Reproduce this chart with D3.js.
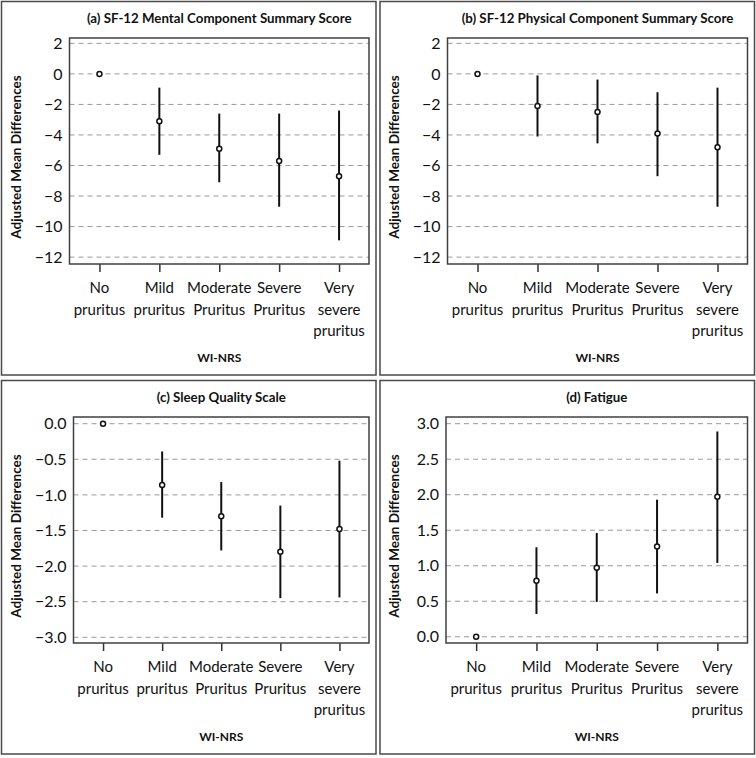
<!DOCTYPE html>
<html>
<head>
<meta charset="utf-8">
<script src="https://cdn.jsdelivr.net/npm/d3@7"></script>
<style>
  html, body { margin: 0; padding: 0; background: #fff; }
  svg { display: block; font-family: Lato, "Open Sans", sans-serif; }
</style>
</head>
<body>
<svg id="chart" width="756" height="758"></svg>
<script>
// ---------- data ----------
const categories = [
  ["No", "pruritus"],
  ["Mild", "pruritus"],
  ["Moderate", "Pruritus"],
  ["Severe", "Pruritus"],
  ["Very", "severe", "pruritus"]
];
const titles = [
  "(a) SF-12 Mental Component Summary Score",
  "(b) SF-12 Physical Component Summary Score",
  "(c) Sleep Quality Scale",
  "(d) Fatigue"
];
const mentalMean  = [0, -3.1, -4.9, -5.7, -6.7];
const mentalLow   = [null, -5.3, -7.1, -8.7, -10.9];
const mentalHigh  = [null, -0.9, -2.6, -2.6, -2.4];

const physicalMean = [0, -2.1, -2.5, -3.9, -4.8];
const physicalLow  = [null, -4.1, -4.55, -6.7, -8.7];
const physicalHigh = [null, -0.1, -0.37, -1.2, -0.9];

const sleepMean = [0, -0.86, -1.30, -1.80, -1.48];
const sleepLow  = [null, -1.32, -1.78, -2.45, -2.44];
const sleepHigh = [null, -0.39, -0.82, -1.15, -0.52];

const fatigueMean = [0, 0.79, 0.97, 1.27, 1.97];
const fatigueLow  = [null, 0.32, 0.49, 0.61, 1.04];
const fatigueHigh = [null, 1.26, 1.46, 1.93, 2.89];

const sfTicks = [2, 0, -2, -4, -6, -8, -10, -12];
const sleepTicks = [0, -0.5, -1.0, -1.5, -2.0, -2.5, -3.0];
const fatigueTicks = [3.0, 2.5, 2.0, 1.5, 1.0, 0.5, 0.0];

const yTitle = "Adjusted Mean Differences";
const xTitle = "WI-NRS";

// ---------- layout ----------
const panels = [
  { title: titles[0], mean: mentalMean, low: mentalLow, high: mentalHigh, ticks: sfTicks, dom: [-12.45, 2.35], fmt: d3.format("d"), ox: 1.5, oy: 1.5, left: 68, w: 376 - 1.5 },
  { title: titles[1], mean: physicalMean, low: physicalLow, high: physicalHigh, ticks: sfTicks, dom: [-12.45, 2.35], fmt: d3.format("d"), ox: 380, oy: 1.5, left: 67.5, w: 754.5 - 380 },
  { title: titles[2], mean: sleepMean, low: sleepLow, high: sleepHigh, ticks: sleepTicks, dom: [-3.08, 0.094], fmt: d3.format(".1f"), ox: 1.5, oy: 380.5, left: 72, w: 376 - 1.5 },
  { title: titles[3], mean: fatigueMean, low: fatigueLow, high: fatigueHigh, ticks: fatigueTicks, dom: [-0.088, 3.094], fmt: d3.format(".1f"), ox: 380, oy: 380.5, left: 66, w: 754.5 - 380 }
];

const svg = d3.select("#chart");
const panelH = 375;

panels.forEach(p => {
  const g = svg.append("g").attr("transform", `translate(${p.ox},${p.oy})`);
  // panel border
  g.append("rect").attr("x", 0).attr("y", 0).attr("width", p.w).attr("height", panelH - 1.5)
    .attr("fill", "none").attr("stroke", "#4a4a4a").attr("stroke-width", 1.5);

  const plotL = p.left, plotR = p.w - 7, plotT = 36.5, plotB = 262.5;
  const x = d3.scalePoint().domain(d3.range(categories.length)).range([plotL, plotR]).padding(0.5);
  const y = d3.scaleLinear().domain(p.dom).range([plotB, plotT]);

  // gridlines
  g.append("g").selectAll("line").data(p.ticks).join("line")
    .attr("x1", plotL).attr("x2", plotR)
    .attr("y1", d => y(d)).attr("y2", d => y(d))
    .attr("stroke", "#9a9a9a").attr("stroke-width", 1).attr("stroke-dasharray", "5,4");

  // y axis labels
  const yAxis = d3.axisLeft(y).tickValues(p.ticks).tickFormat(p.fmt).tickSize(0).tickPadding(7);
  const ya = g.append("g").attr("transform", `translate(${plotL},0)`).call(yAxis);
  ya.select(".domain").remove();
  ya.selectAll("text").attr("font-size", 16).attr("fill", "#111").attr("font-family", "Lato, sans-serif");

  // x axis ticks
  const xAxis = d3.axisBottom(x).tickSize(8).tickFormat("");
  const xa = g.append("g").attr("transform", `translate(0,${plotB})`).call(xAxis);
  xa.select(".domain").remove();
  xa.selectAll(".tick line").attr("stroke", "#333").attr("stroke-width", 1.5);

  // category labels
  const lab = g.append("g").selectAll("text").data(categories).join("text")
    .attr("x", (d, i) => x(i)).attr("y", 291.5)
    .attr("text-anchor", "middle").attr("font-size", 15).attr("fill", "#111");
  lab.selectAll("tspan").data(d => d).join("tspan")
    .attr("x", function () { return d3.select(this.parentNode).attr("x"); })
    .attr("dy", (d, i) => i === 0 ? 0 : 21.7)
    .text(d => d);

  // plot frame
  g.append("rect").attr("x", plotL).attr("y", plotT).attr("width", plotR - plotL).attr("height", plotB - plotT)
    .attr("fill", "none").attr("stroke", "#404040").attr("stroke-width", 1.5);

  // error bars
  const idx = d3.range(categories.length).filter(i => p.low[i] !== null);
  g.append("g").selectAll("line").data(idx).join("line")
    .attr("x1", i => x(i)).attr("x2", i => x(i))
    .attr("y1", i => y(p.low[i])).attr("y2", i => y(p.high[i]))
    .attr("stroke", "#111").attr("stroke-width", 2);

  // points
  g.append("g").selectAll("circle").data(p.mean).join("circle")
    .attr("cx", (d, i) => x(i)).attr("cy", d => y(d)).attr("r", 2.5)
    .attr("fill", "#fff").attr("stroke", "#111").attr("stroke-width", 1.5);

  // title
  g.append("text").attr("x", (plotL + plotR) / 2).attr("y", 21)
    .attr("text-anchor", "middle").attr("font-size", 13.3).attr("font-weight", "bold").attr("fill", "#111")
    .text(p.title);

  // y title
  g.append("text").attr("transform", `translate(19,${(plotT + plotB) / 2 + 6}) rotate(-90)`)
    .attr("text-anchor", "middle").attr("font-size", 13.5).attr("font-weight", "bold").attr("fill", "#111")
    .text(yTitle);

  // x title
  g.append("text").attr("x", (plotL + plotR) / 2).attr("y", 360)
    .attr("text-anchor", "middle").attr("font-size", 12).attr("font-weight", "bold").attr("fill", "#111")
    .text(xTitle);
});
</script>
</body>
</html>
